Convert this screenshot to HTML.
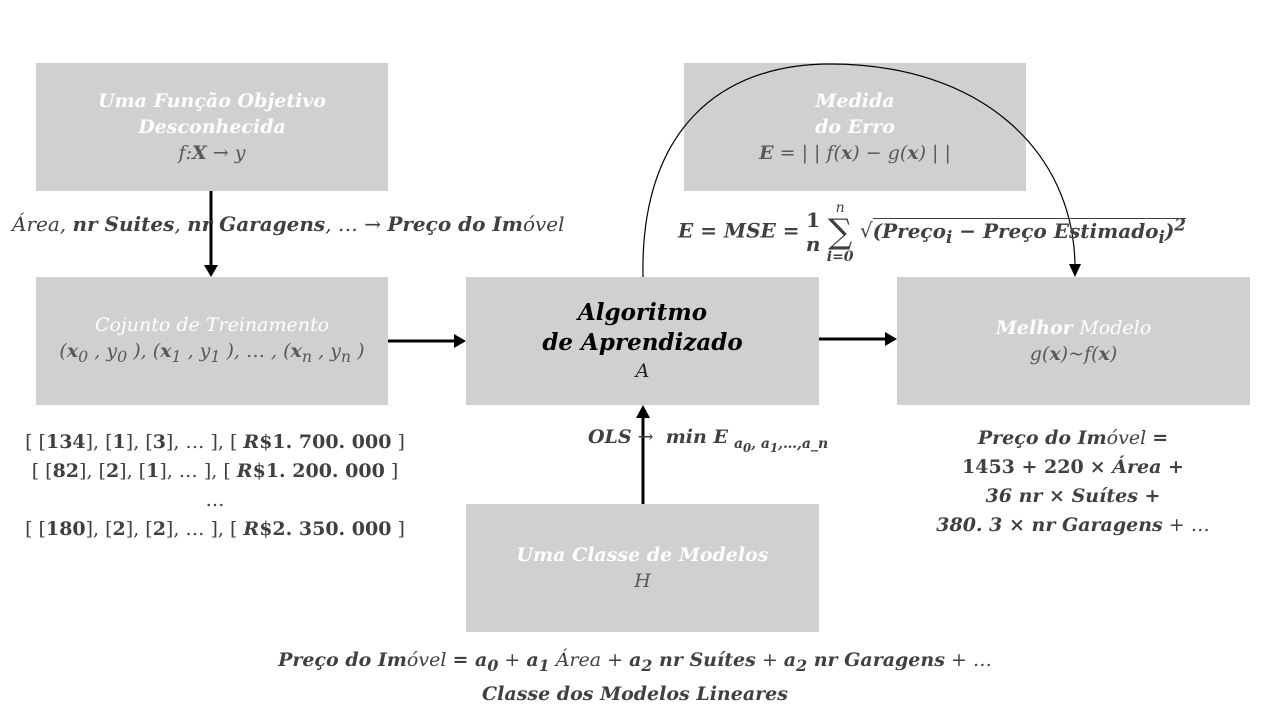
<!DOCTYPE html>
<html><head><meta charset="utf-8">
<style>
body{margin:0;width:1280px;height:720px;background:#fff;position:relative;overflow:hidden;font-family:"DejaVu Serif","Liberation Serif",serif;}
.box{position:absolute;background:#d0d0d0;display:flex;flex-direction:column;align-items:center;justify-content:center;text-align:center;font-style:italic;font-size:19px;line-height:26px;}
.w{color:#fff;font-weight:bold;}
.g{color:#595959;}
.t{position:absolute;font-style:italic;color:#404040;font-size:19px;white-space:nowrap;}
b{font-weight:bold;}
svg{position:absolute;left:0;top:0;}
</style></head><body>
<div class="box" style="left:36px;top:63px;width:352px;height:128px;">
<div class="w">Uma Função Objetivo</div><div class="w">Desconhecida</div><div class="g"><i>f</i>:<b>X</b> → <i>y</i></div></div>
<div class="box" style="left:684px;top:63px;width:342px;height:128px;">
<div class="w">Medida</div><div class="w">do Erro</div><div class="g"><b>E</b> = | | <i>f</i>(<b>x</b>) − <i>g</i>(<b>x</b>) | |</div></div>
<div class="box" style="left:36px;top:277px;width:352px;height:128px;">
<div class="w" style="font-weight:normal">Cojunto de Treinamento</div><div class="g">(<b>x</b><sub>0</sub> , <i>y</i><sub>0</sub> ), (<b>x</b><sub>1</sub> , <i>y</i><sub>1</sub> ), … , (<b>x</b><sub>n</sub> , <i>y</i><sub>n</sub> )</div></div>
<div class="box" style="left:466px;top:277px;width:353px;height:128px;">
<div style="font-weight:bold;color:#000;font-size:23px;line-height:30px">Algoritmo</div><div style="font-weight:bold;color:#000;font-size:23px;line-height:30px">de Aprendizado</div><div style="color:#222">A</div></div>
<div class="box" style="left:897px;top:277px;width:353px;height:128px;">
<div class="w">Melhor <span style="font-weight:normal">Modelo</span></div><div class="g"><i>g</i>(<b>x</b>)~<i>f</i>(<b>x</b>)</div></div>
<div class="box" style="left:466px;top:504px;width:353px;height:128px;">
<div class="w">Uma Classe de Modelos</div><div class="g">H</div></div>

<svg width="1280" height="720">
<g stroke="#000" stroke-width="3">
<line x1="211" y1="191" x2="211" y2="265"/><polygon points="204,265 218,265 211,277" fill="#000" stroke="none"/>
<line x1="388" y1="341" x2="454" y2="341"/><polygon points="454,334 454,348 466,341" fill="#000" stroke="none"/>
<line x1="819" y1="339" x2="885" y2="339"/><polygon points="885,332 885,346 897,339" fill="#000" stroke="none"/>
<line x1="643" y1="504" x2="643" y2="418"/><polygon points="636,418 650,418 643,405" fill="#000" stroke="none"/>
</g>
<path d="M643,277 C640,130 720,64 830,64 C980,64 1073,150 1075,265" fill="none" stroke="#000" stroke-width="1.2"/>
<polygon points="1069,264 1081,264 1075,277" fill="#000"/>
</svg>

<div class="t" style="left:12px;top:212px;font-size:20px;">Á<span>rea</span>, <b>nr Suites</b>, <b>nr Garagens</b>, … → <b>Preço do Im</b>óvel</div>
<div class="t" style="left:678px;top:198px;font-size:20px;line-height:52px;"><b>E = MSE =</b> <span style="display:inline-block;vertical-align:middle;text-align:center;line-height:24px;font-weight:bold;font-style:normal">1<br><i>n</i></span> <span style="display:inline-block;vertical-align:middle;text-align:center;line-height:18px;font-size:14px"><i>n</i><br><span style="font-size:34px;line-height:30px;font-style:normal">∑</span><br><b>i=0</b></span> <span style="font-style:normal">√</span><span style="border-top:1.5px solid #404040"><b>(Preço<sub>i</sub> − Preço Estimado<sub>i</sub>)<sup>2</sup></b></span></div>
<div class="t" style="left:20px;top:428px;font-style:normal;line-height:29px;text-align:center;width:390px;">
[ [<b>134</b>], [<b>1</b>], [<b>3</b>], … ], [ <b><i>R</i>$1. 700. 000</b> ]<br>[ [<b>82</b>], [<b>2</b>], [<b>1</b>], … ], [ <b><i>R</i>$1. 200. 000</b> ]<br>…<br>[ [<b>180</b>], [<b>2</b>], [<b>2</b>], … ], [ <b><i>R</i>$2. 350. 000</b> ]</div>
<div class="t" style="left:588px;top:426px;"><b>OLS</b> → &nbsp;<b>min E</b> <sub style="font-size:14px"><b>a<sub>0</sub>, a<sub>1</sub>,…,a_n</b></sub></div>
<div class="t" style="left:893px;top:424px;width:360px;text-align:center;line-height:29px;">
<b>Preço do Im</b>óvel <b>=</b><br><b style="font-style:normal">1453 + 220</b> <b>× Área +</b><br><b>36 nr × Suítes +</b><br><b>380. 3 × nr Garagens</b> + …</div>
<div class="t" style="left:235px;top:646px;line-height:29px;text-align:center;width:800px;">
<b>Preço do Im</b>óvel <b>= a<sub>0</sub></b> + <b>a<sub>1</sub></b> Área + <b>a<sub>2</sub> nr Suítes</b> + <b>a<sub>2</sub> nr Garagens</b> + …<br><b>Classe dos Modelos Lineares</b></div>
</body></html>
